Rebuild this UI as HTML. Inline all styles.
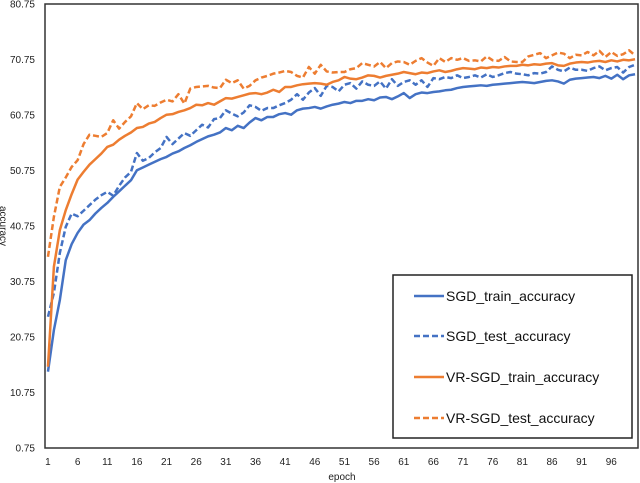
<!DOCTYPE html>
<html><head><meta charset="utf-8"><style>
html,body{margin:0;padding:0;background:#fff;}
svg{display:block;font-family:"Liberation Sans",sans-serif;}
</style></head><body>
<svg id="chart" width="640" height="483">
<rect x="45" y="4" width="593" height="444" fill="#fff" stroke="#333" stroke-width="1.5"/>
<g id="yticks"></g>
<g id="xticks"></g>
<g id="series"></g>
<text x="342" y="480" font-size="10" text-anchor="middle" fill="#222">epoch</text>
<text transform="translate(0,226) rotate(90)" font-size="10" text-anchor="middle" fill="#222">accuracy</text>
<g>
<rect x="393" y="275" width="239" height="163" fill="#fff" stroke="#222" stroke-width="1.5"/>
<g><line x1="414" y1="296" x2="444" y2="296" stroke="#4472C4" stroke-width="2.5"/><text x="446" y="301" font-size="14" fill="#111">SGD_train_accuracy</text></g>
<g><line x1="414" y1="336" x2="444" y2="336" stroke="#4472C4" stroke-width="2.5" stroke-dasharray="6,3"/><text x="446" y="341" font-size="14" fill="#111">SGD_test_accuracy</text></g>
<g><line x1="414" y1="377" x2="444" y2="377" stroke="#ED7D31" stroke-width="2.5"/><text x="446" y="382" font-size="14" fill="#111">VR-SGD_train_accuracy</text></g>
<g><line x1="414" y1="418" x2="444" y2="418" stroke="#ED7D31" stroke-width="2.5" stroke-dasharray="6,3"/><text x="446" y="423" font-size="14" fill="#111">VR-SGD_test_accuracy</text></g>
</g>
</svg>
<script>
const yTicks=[0.75,10.75,20.75,30.75,40.75,50.75,60.75,70.75,80.75];
const xTickLabels=[1,6,11,16,21,26,31,36,41,46,51,56,61,66,71,76,81,86,91,96];
const sgdTrain=[14.5,22,27.4,34.6,37.5,39.5,41,41.8,43,44,
44.9,46,47,48,49,50.8,51.3,51.8,52.3,52.8,
53.2,53.8,54.2,54.8,55.3,55.9,56.4,56.9,57.2,57.6,
58.4,58,58.8,58.4,59.4,60.2,59.8,60.4,60.4,60.9,
61.1,60.8,61.6,61.9,62,62.2,61.9,62.3,62.6,62.8,
63.1,62.9,63.3,63.3,63.6,63.4,63.9,64,63.6,64.1,
64.7,63.8,64.5,64.8,64.7,64.9,65,65.2,65.3,65.6,
65.8,65.9,66,66.1,66,66.2,66.3,66.4,66.5,66.6,
66.7,66.6,66.5,66.7,66.9,67,66.8,66.4,67.1,67.3,
67.4,67.5,67.6,67.4,67.8,67.3,68,67.2,67.9,68.1];
const sgdTest=[24.4,28.7,35.9,40.6,43,42.5,43.5,44.5,45.5,46.3,
46.9,46.2,48,49.5,50.5,53.9,52.5,53,54,54.8,
56.8,55.5,56.5,57.5,57,58,59,58.5,60,60.2,
61.6,61,60.5,61.2,62.5,62.2,61.5,62,62,62.5,
62.9,63.5,64.5,63.5,64.8,65.6,64.2,66,65.8,65,
66.2,66.5,65.5,66.8,66.2,66,66.8,65.5,67.2,66,
66.7,67,66.2,67,65.8,67.4,67.2,67.6,67.4,67.9,
67.4,67.6,67.9,67.5,68.1,67.6,67.9,68.3,68.5,68.2,
68.1,67.9,68.3,68.2,68.5,69.5,68.9,68.6,69.3,68.9,
68.9,68.7,69.2,69.5,68.8,69.2,69.4,68.4,69.4,69.8];
const vrTrain=[15.4,33.4,40,43.6,46.5,49.1,50.5,51.8,52.8,53.8,
55,55.4,56.3,57,57.6,58.4,58.6,59.2,59.5,60.2,
60.8,60.9,61.3,61.6,62,62.6,62.5,62.9,62.6,63.2,
63.8,63.7,64,64.3,64.6,64.7,64.5,64.8,65.3,64.9,
65.8,65.8,66.1,66.3,66.4,66.5,66.4,66.2,66.7,67,
67.6,67.3,67.2,67.5,67.9,67.8,67.5,67.8,68,68.2,
68.5,68.3,68.1,68.4,68.3,68.6,68.8,68.5,68.7,69,
69.2,69.1,69,69.3,69.2,69.4,69.3,69.5,69.6,69.6,
69.8,69.7,69.9,69.8,70,70.1,69.7,69.6,70,70.2,
70.3,70.2,70.4,70.5,70.3,70.6,70.4,70.7,70.6,70.8];
const vrTest=[35.2,42.4,47.8,49.5,51.4,52.6,55.5,57.2,57,56.8,
57.5,59.8,58.3,59.5,60.5,62.9,61.8,62.5,62.4,63,
63.5,63.2,64.5,62.8,65.5,65.8,65.9,66,65.7,65.6,
67.1,66.5,67,65.5,66,67,67.5,67.8,68.2,68.4,
68.7,68.5,67.8,67.5,69.4,68.2,69.8,68.6,68.4,68.5,
68.5,69,69.2,70.1,69.8,69.5,70.3,69.2,70.1,70.4,
70.3,69.8,70.5,71,70.2,69.6,71,70.3,71,70.7,
71,70.5,70.6,70.4,71.3,70.6,70.5,71.2,70.4,70.3,
70.3,71.3,71.6,71.9,71,71.5,72,71.8,71,71.6,
71.5,72.1,71.5,72.3,71.2,72.1,71.4,71.7,72.4,71.5];

const NS='http://www.w3.org/2000/svg';
const L=45,R=638,T=4,B=448,N=sgdTrain.length;
const yMin=yTicks[0],yMax=yTicks[yTicks.length-1];
function ys(v){return B-(v-yMin)/(yMax-yMin)*(B-T);}
function xs(epoch){return L+(R-L)/N*(epoch-0.5);}

const yg=document.getElementById('yticks');
yTicks.forEach(v=>{
  const t=document.createElementNS(NS,'text');
  
  
  t.setAttribute('x',35);t.setAttribute('y',ys(v)+3.5);
  t.setAttribute('font-size','10');t.setAttribute('text-anchor','end');t.setAttribute('fill','#222');
  t.textContent=v.toFixed(2);yg.appendChild(t);
});
const xg=document.getElementById('xticks');
xTickLabels.forEach(e=>{
  const t=document.createElementNS(NS,'text');
  
  
  t.setAttribute('x',xs(e));t.setAttribute('y',465);
  t.setAttribute('font-size','10');t.setAttribute('text-anchor','middle');t.setAttribute('fill','#222');
  t.textContent=e;xg.appendChild(t);
});
const sg=document.getElementById('series');
function draw(arr,color,dash,name){
  const p=document.createElementNS(NS,'polyline');
  
  
  p.setAttribute('points',arr.map((v,i)=>xs(i+1).toFixed(2)+','+ys(v).toFixed(2)).join(' '));
  p.setAttribute('fill','none');p.setAttribute('stroke',color);p.setAttribute('stroke-width','2.5');
  p.setAttribute('stroke-linejoin','round');
  if(dash)p.setAttribute('stroke-dasharray','6,3');
  sg.appendChild(p);
}
draw(sgdTrain,'#4472C4',false,'sgd-train-line');
draw(sgdTest,'#4472C4',true,'sgd-test-line');
draw(vrTrain,'#ED7D31',false,'vrsgd-train-line');
draw(vrTest,'#ED7D31',true,'vrsgd-test-line');
</script>
</body></html>
